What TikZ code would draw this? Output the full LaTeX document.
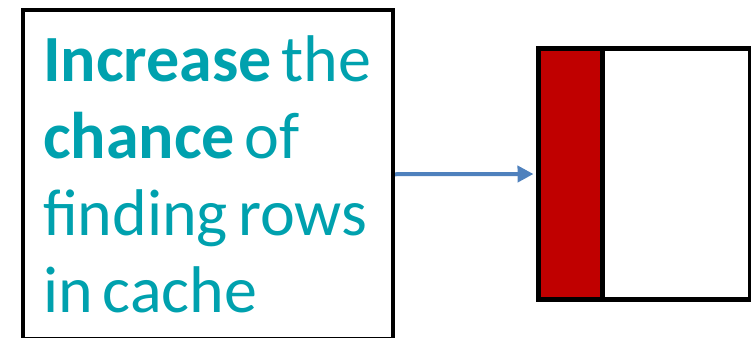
\documentclass[tikz,border=0pt]{standalone}
\usepackage{fontspec}
\setmainfont{Carlito}
\usetikzlibrary{arrows.meta,positioning}
\definecolor{goalteal}{RGB}{0,161,174}
\definecolor{flowblue}{RGB}{79,129,189}
\definecolor{hotred}{RGB}{192,0,0}
% narrow word gap inside the goal box
\newcommand\wgap{\hspace{10pt}}
\tikzset{
  goalbox/.style={draw=black, line width=4pt, text=goalteal, align=left,
    text width=330pt, inner xsep=20pt, minimum height=328.5pt, anchor=north west,
    font=\fontsize{66}{77}\selectfont},
  cacheblock/.style={draw=black, line width=5pt, outer sep=0pt, minimum height=251pt},
  flow/.style={draw=flowblue, line width=4pt, -{Triangle[length=16pt,width=16pt]}},
}

\begin{document}
\begin{tikzpicture}[x=1pt, y=-1pt]
    %%%%% START %%%%%
    \useasboundingbox (0,0) rectangle (751,337);

    % the goal, in a framed box
    \node[goalbox] (goal) at (21,8)
        {\textbf{Increase}\wgap the\\ \textbf{chance}\wgap of\\ finding\wgap rows\\ in\wgap cache};

    % cache block: hot rows on the left, the rest after
    \node[cacheblock, fill=hotred, minimum width=63.5pt, anchor=north west] (hot) at (538.5,48.5) {};
    \node[cacheblock, minimum width=148.5pt, right=0pt of hot] (rest) {};

    \draw[flow, shorten >=5pt] (goal.east) -- (hot.west);
    %%%%% END %%%%%
\end{tikzpicture}
\end{document}
